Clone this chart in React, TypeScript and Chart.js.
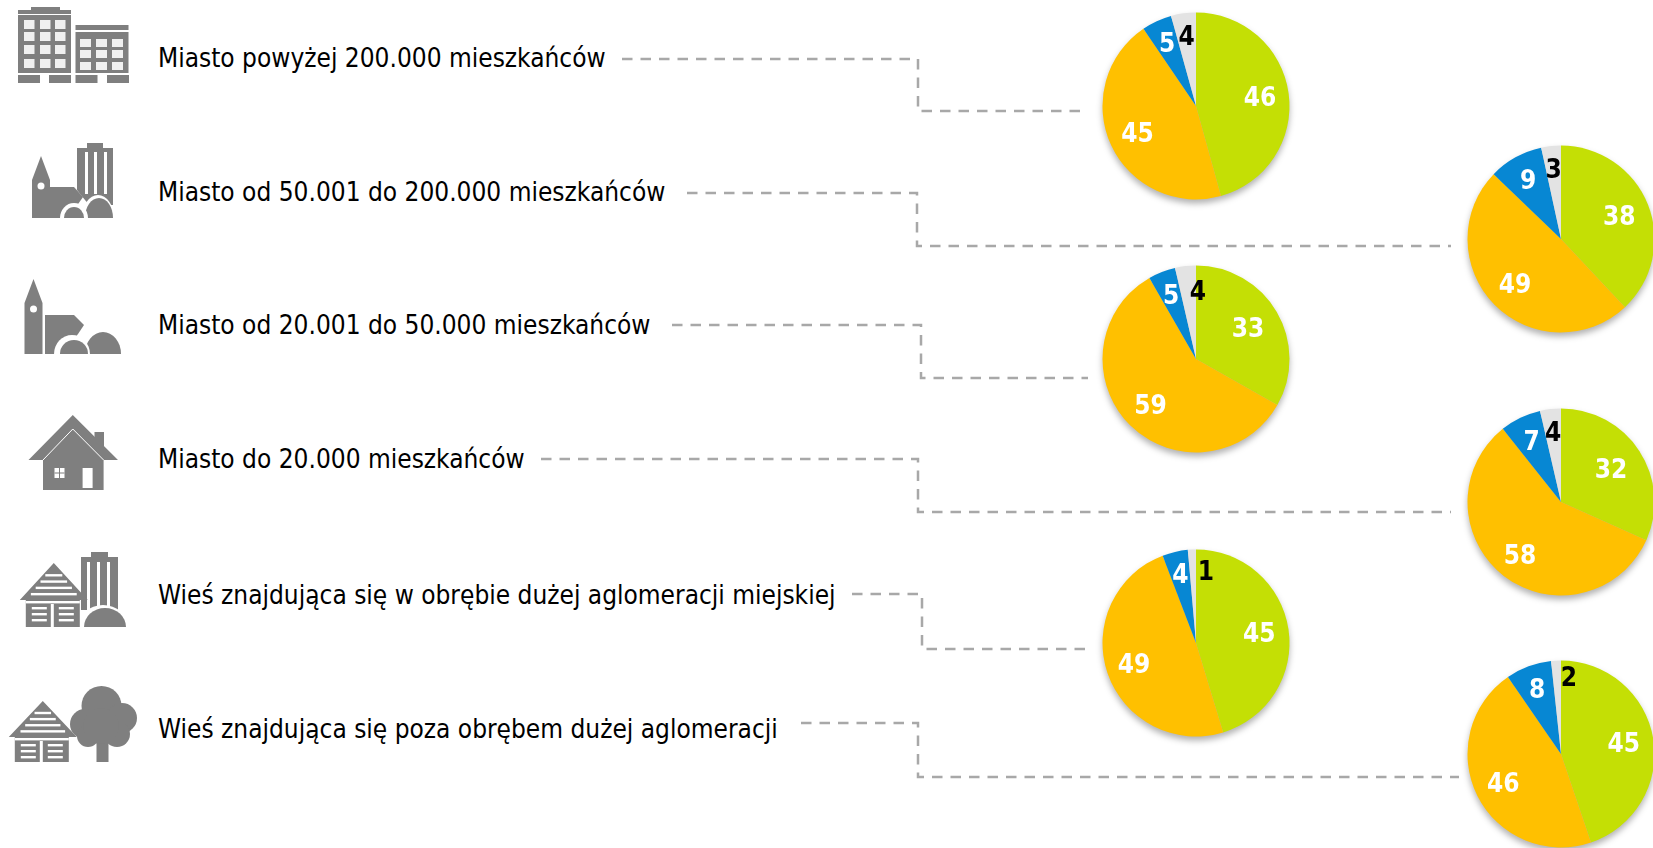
import React, { useEffect, useRef } from "react";
import { Chart, registerables } from "chart.js";

Chart.register(...registerables);

const categories = [
  "Miasto powyżej 200.000 mieszkańców",
  "Miasto od 50.001 do 200.000 mieszkańców",
  "Miasto od 20.001 do 50.000 mieszkańców",
  "Miasto do 20.000 mieszkańców",
  "Wieś znajdująca się w obrębie dużej aglomeracji miejskiej",
  "Wieś znajdująca się poza obrębem dużej aglomeracji",
];
// four slices per place type; labels show them rounded
const big = [45.7, 44.8, 5.2, 4.3];
const mid = [38.0, 49.2, 9.4, 3.4];
const town = [33.2, 58.5, 4.7, 3.6];
const small = [31.7, 57.6, 7.1, 3.6];
const nearVillage = [45.3, 48.9, 4.4, 1.4];
const farVillage = [44.8, 45.6, 7.9, 1.7];
const pieValues = [big, mid, town, small, nearVillage, farVillage];

const sliceColors = ["#C4DF05", "#FFC000", "#0787D3", "#E3E3E3"];
const labelColors = ["#FFFFFF", "#FFFFFF", "#FFFFFF", "#000000"];

const pieCenters = [[1196, 106], [1561, 239], [1196, 359], [1561, 502], [1196, 643], [1561, 754]];
const labelFractions = [
  [0.69, 0.69, 0.735, 0.753],
  [0.67, 0.69, 0.72, 0.746],
  [0.645, 0.69, 0.73, 0.73],
  [0.636, 0.715, 0.725, 0.755],
  [0.685, 0.7, 0.75, 0.77],
  [0.68, 0.69, 0.735, 0.82],
];
const labelAngleShifts = [
  [0, 0, 0, 0],
  [0, 0, 0, 0],
  [0, 0, 0, 8],
  [0, 0, 0, 0],
  [0, 0, 0, 10.5],
  [0, 0, 0, 9],
];
const textY = [58, 192, 325, 459, 595, 729];
const connectors = [
  "622,59 918,59 918,111 1083,111",
  "687,193 917,193 917,246 1451,246",
  "672,325 921,325 921,378 1088,378",
  "541,459 918,459 918,512 1451,512",
  "852,594 922,594 922,649 1089,649",
  "801,723 918,723 918,777 1459,777",
];

const GREY = "#7F7F7F";
const FONT = '"DejaVu Sans Condensed", "DejaVu Sans"';

const labelPlugin = (index: number) => ({
  id: "sliceLabels" + index,
  afterDatasetsDraw(chart: any) {
    const ctx = chart.ctx;
    const meta = chart.getDatasetMeta(0);
    ctx.save();
    ctx.font = `bold 26px ${FONT}`;
    ctx.textAlign = "center";
    ctx.textBaseline = "middle";
    meta.data.forEach((arc: any, i: number) => {
      const a = (arc.startAngle + arc.endAngle) / 2 + (labelAngleShifts[index][i] * Math.PI) / 180;
      const d = arc.outerRadius * labelFractions[index][i];
      ctx.fillStyle = labelColors[i];
      ctx.fillText(String(Math.round(pieValues[index][i])), arc.x + Math.cos(a) * d, arc.y + Math.sin(a) * d + 2);
    });
    ctx.restore();
  },
});

function Pie({ index }: { index: number }) {
  const ref = useRef<HTMLCanvasElement>(null);
  useEffect(() => {
    const chart = new Chart(ref.current!, {
      type: "pie",
      data: {
        labels: ["a", "b", "c", "d"],
        datasets: [{ data: pieValues[index], backgroundColor: sliceColors, borderWidth: 0 }],
      },
      options: {
        animation: false,
        responsive: false,
        radius: 93.5,
        plugins: { legend: { display: false }, tooltip: { enabled: false } },
      } as any,
      plugins: [labelPlugin(index)],
    });
    return () => chart.destroy();
  }, [index]);
  const [cx, cy] = pieCenters[index];
  return (
    <canvas
      ref={ref}
      width={220}
      height={220}
      style={{
        position: "absolute",
        left: cx - 110,
        top: cy - 110,
        width: 220,
        height: 220,
        filter: "drop-shadow(0 4px 3px rgba(0,0,0,0.3))",
      }}
    />
  );
}

const dome = (x0: number, x1: number, top: number, bottom: number, fill: string) => (
  <path d={`M${x0} ${bottom}A${(x1 - x0) / 2} ${bottom - top} 0 0 1 ${x1} ${bottom}Z`} fill={fill} />
);
const R = (x: number, y: number, w: number, h: number, fill = GREY) => <rect x={x} y={y} width={w} height={h} fill={fill} />;

function Grid({ xs, ys, w, h }: { xs: number[]; ys: number[]; w: number; h: number }) {
  return (
    <>
      {ys.map((y) => xs.map((x) => <rect key={x + "-" + y} x={x} y={y} width={w} height={h} fill="#F0F0F0" />))}
    </>
  );
}

function Church({ t, b, towerX }: { t: number; b: number; towerX: number }) {
  const x = towerX;
  return (
    <>
      <path d={`M${x} ${t + 24}L${x + 9} ${t}L${x + 18} ${t + 24}V${b}H${x}Z`} fill={GREY} />
      <circle cx={x + 9} cy={t + 30} r={3.5} fill="#fff" />
    </>
  );
}

function Tower({ x, y, b }: { x: number; y: number; b: number }) {
  return (
    <>
      {R(x + 10, y, 17, 6)}
      {R(x, y + 5, 37, 4)}
      {R(x, y + 9, 37, b - y - 9)}
      {R(x + 6, y + 10, 3, b - y - 10, "#fff")}
      {R(x + 16, y + 10, 3, b - y - 10, "#fff")}
      {R(x + 26, y + 10, 3, b - y - 10, "#fff")}
    </>
  );
}

function StripedHouse({ ax, ay, eave, bottom }: { ax: number; ay: number; eave: number; bottom: number }) {
  const rows = [0.3, 0.47, 0.64, 0.81];
  const h = eave - ay;
  return (
    <>
      <path d={`M${ax} ${ay}L${ax + 34} ${eave}H${ax + 26}V${bottom}H${ax - 28}V${eave}H${ax - 34}Z`} fill={GREY} />
      {rows.map((f) => {
        const half = f * h * 0.9;
        return <rect key={f} x={ax - half * 0.85} y={ay + f * h} width={half * 1.7} height={2.4} fill="#fff" />;
      })}
      {R(ax - 28, eave + 1, 54, 2.4, "#fff")}
      {R(ax - 22, eave + 7, 15, 2.4, "#fff")}
      {R(ax + 5, eave + 7, 15, 2.4, "#fff")}
      {R(ax - 22, eave + 13, 15, 2.4, "#fff")}
      {R(ax + 5, eave + 13, 15, 2.4, "#fff")}
      {R(ax - 22, eave + 19, 15, 2.4, "#fff")}
      {R(ax + 5, eave + 19, 15, 2.4, "#fff")}
      {R(ax - 3, eave + 4, 3, bottom - eave - 4, "#fff")}
    </>
  );
}

function Icons() {
  return (
    <svg width={1653} height={848} style={{ position: "absolute", left: 0, top: 0 }}>
      {/* high-rise blocks */}
      {R(31, 7, 29, 3)}
      {R(18, 10, 53, 4)}
      {R(18, 15, 53, 58)}
      {R(75.5, 25, 53, 5)}
      {R(75.5, 32, 53, 41)}
      <Grid xs={[24, 40, 55]} ys={[20, 32, 45, 59]} w={10.5} h={9} />
      <Grid xs={[80, 96, 112]} ys={[39, 50, 62]} w={11} h={8} />
      {R(18, 75, 22, 8)}
      {R(49, 75, 22, 8)}
      {R(75.5, 75, 22, 8)}
      {R(107, 75, 22, 8)}

      {/* town with tower block */}
      {R(87, 143, 16, 6)}
      {R(77, 148, 36, 4)}
      <path d="M77 152H113V205H89L77 190Z" fill={GREY} />
      {R(85, 152, 3, 42, "#fff")}
      {R(94, 152, 3, 42, "#fff")}
      {R(104, 152, 3, 42, "#fff")}
      <Church t={156} b={218} towerX={32} />
      <path d="M49 187H74L83 197L76 207L64 218H49Z" fill={GREY} />
      {dome(82, 114, 195, 218, "#fff")}
      {dome(85, 113, 198, 218, GREY)}
      {dome(60, 88, 203, 218, "#fff")}
      {dome(64, 84, 207, 218, GREY)}

      {/* small town */}
      <Church t={279} b={354} towerX={24.5} />
      <path d="M45 315H74L84 325L78 334L62 354H45Z" fill={GREY} />
      {dome(85, 121, 332, 354, GREY)}
      {dome(54, 90, 335, 354, "#fff")}
      {dome(60, 88, 340, 354, GREY)}

      {/* house */}
      {R(94.5, 432, 9.5, 20)}
      <path d="M72.8 415L118 460H103.6V490H43V460H28.5Z" fill={GREY} />
      <path d="M43 460L72.8 429L103.6 460" fill="none" stroke="#fff" strokeWidth={1} />
      {R(54.5, 468, 10, 10, "#fff")}
      {R(59, 468, 1, 10, GREY)}
      {R(54.5, 472.5, 10, 1, GREY)}
      {R(82.6, 468, 10, 20, "#fff")}

      {/* village near the city */}
      <Tower x={81} y={552} b={610} />
      {dome(78, 128, 605, 627, "#fff")}
      {dome(84, 126, 608, 627, GREY)}
      <StripedHouse ax={53.8} ay={563} eave={600} bottom={627} />

      {/* village with a tree */}
      {R(96.5, 730, 12, 32)}
      <circle cx={101.5} cy={706} r={20} fill={GREY} />
      <circle cx={85} cy={724} r={15} fill={GREY} />
      <circle cx={122} cy={718} r={15} fill={GREY} />
      <circle cx={117} cy={734} r={13} fill={GREY} />
      <circle cx={88} cy={736} r={11} fill={GREY} />
      <circle cx={101} cy={726} r={18} fill={GREY} />
      <StripedHouse ax={42.8} ay={701} eave={737} bottom={762} />

      {connectors.map((points) => (
        <polyline key={points} points={points} fill="none" stroke="#A8A8A8" strokeWidth={2.5} strokeDasharray="10.5 8" />
      ))}
    </svg>
  );
}

export default function App() {
  return (
    <div style={{ position: "absolute", left: 0, top: 0, width: 1653, height: 848, overflow: "hidden", background: "#fff" }}>
      <Icons />
      {categories.map((c, i) => (
        <div
          key={c}
          style={{
            position: "absolute",
            left: 158,
            top: textY[i] - 20,
            height: 40,
            lineHeight: "40px",
            whiteSpace: "nowrap",
            fontFamily: FONT,
            fontSize: 26,
            color: "#000",
          }}
        >
          {c}
        </div>
      ))}
      {pieValues.map((_, i) => (
        <Pie key={i} index={i} />
      ))}
    </div>
  );
}
